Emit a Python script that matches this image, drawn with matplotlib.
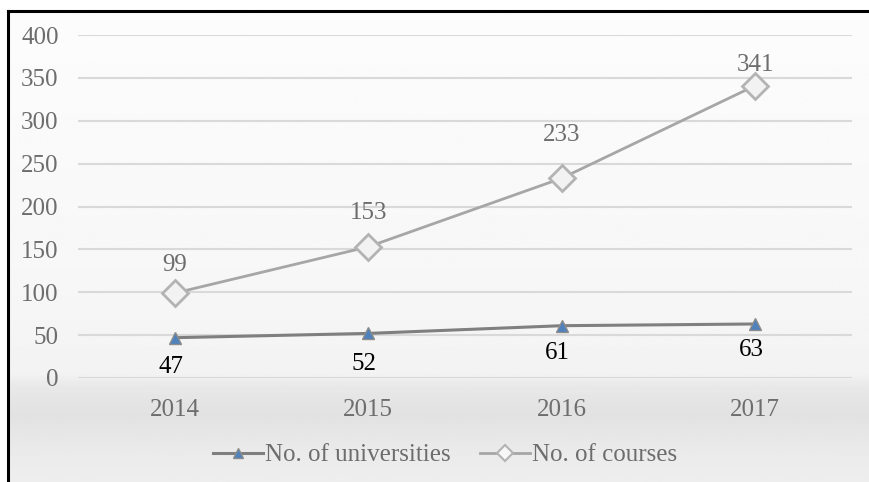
import numpy as np
import matplotlib
matplotlib.use("Agg")
import matplotlib.pyplot as plt
from matplotlib.lines import Line2D

plt.rcParams['font.family'] = ['Liberation Serif', 'DejaVu Serif']

# data
years = ["2014", "2015", "2016", "2017"]
universities = [47, 52, 61, 63]
courses = [99, 153, 233, 341]
yticks = [0, 50, 100, 150, 200, 250, 300, 350, 400]

# label offsets (points)
course_off = [20, 24, 31, 15]
uni_off = [-21, -22, -20, -19]

fig = plt.figure(figsize=(8.7, 4.82), dpi=100)
fig.patch.set_facecolor("white")

# background gradient inside the frame
bg = fig.add_axes([0.0092, 0, 0.9908, 1 - 12 / 482], zorder=-10)
ys = np.linspace(0, 1, 200)
gray = np.interp(ys, [0, 0.55, 0.77, 0.80, 0.86, 0.93, 1.0],
                 [252, 247, 243, 232, 226, 234, 238]) / 255
bg.imshow(np.repeat(gray[:, None], 2, axis=1), cmap="gray", vmin=0, vmax=1,
          aspect="auto", extent=[0, 1, 1, 0], interpolation="bilinear")
bg.set_xlim(0, 1)
bg.set_ylim(1, 0)
bg.axis("off")

# frame: only left and top black edges
fig.add_artist(Line2D([8 / 870, 8 / 870], [0, 1 - 11 / 482], color="black", lw=2.2))
fig.add_artist(Line2D([8 / 870, 1], [1 - 11 / 482, 1 - 11 / 482], color="black", lw=2.2))

ax = fig.add_axes([78 / 870, 1 - 378 / 482, (852 - 78) / 870, (378 - 35) / 482])
ax.patch.set_alpha(0)
x = np.arange(len(years))

ax.plot(x, universities, color="#7f7f7f", lw=2.2, marker="^", markersize=8,
        markerfacecolor="#4f81bd", markeredgecolor="#8c8c8c", markeredgewidth=1,
        zorder=3)
ax.plot(x, courses, color="#a6a6a6", lw=2, marker="D", markersize=13,
        markerfacecolor="#f2f2f2", markeredgecolor="#b3b3b3", markeredgewidth=2,
        zorder=3)

for i, v in enumerate(courses):
    ax.annotate(str(v), (x[i], v), xytext=(0, course_off[i]), textcoords="offset points",
                ha="center", va="center", fontsize=18, color="#6d6d6d")
for i, v in enumerate(universities):
    ax.annotate(str(v), (x[i], v), xytext=(-3, uni_off[i]), textcoords="offset points",
                ha="center", va="center", fontsize=18, color="black")

ax.set_xlim(-0.5, 3.5)
ax.set_ylim(0, 400)
ax.set_yticks(yticks)
ax.set_xticks(x)
ax.set_xticklabels(years)
ax.grid(axis="y", color="#d9d9d9", lw=1.5)
ax.set_axisbelow(True)
for s in ax.spines.values():
    s.set_visible(False)
ax.tick_params(length=0, labelsize=18, colors="#6d6d6d")
ax.tick_params(axis="y", pad=14)
ax.tick_params(axis="x", pad=15)

handles = [
    Line2D([], [], color="#7f7f7f", lw=2.2, marker="^", markersize=7,
           markerfacecolor="#4f81bd", markeredgecolor="#8c8c8c", markeredgewidth=1),
    Line2D([], [], color="#a6a6a6", lw=2, marker="D", markersize=8,
           markerfacecolor="#f7f7f7", markeredgecolor="#b3b3b3", markeredgewidth=1.5),
]
leg = fig.legend(handles, ["No. of universities", "No. of courses"], loc="center",
                 bbox_to_anchor=(445 / 870, 1 - 455 / 482), ncol=2,
                 frameon=False, fontsize=18, handlelength=2.0, handletextpad=0.05,
                 columnspacing=1.2)
for t in leg.get_texts():
    t.set_color("#6d6d6d")

fig.savefig("out.png", dpi=100)
